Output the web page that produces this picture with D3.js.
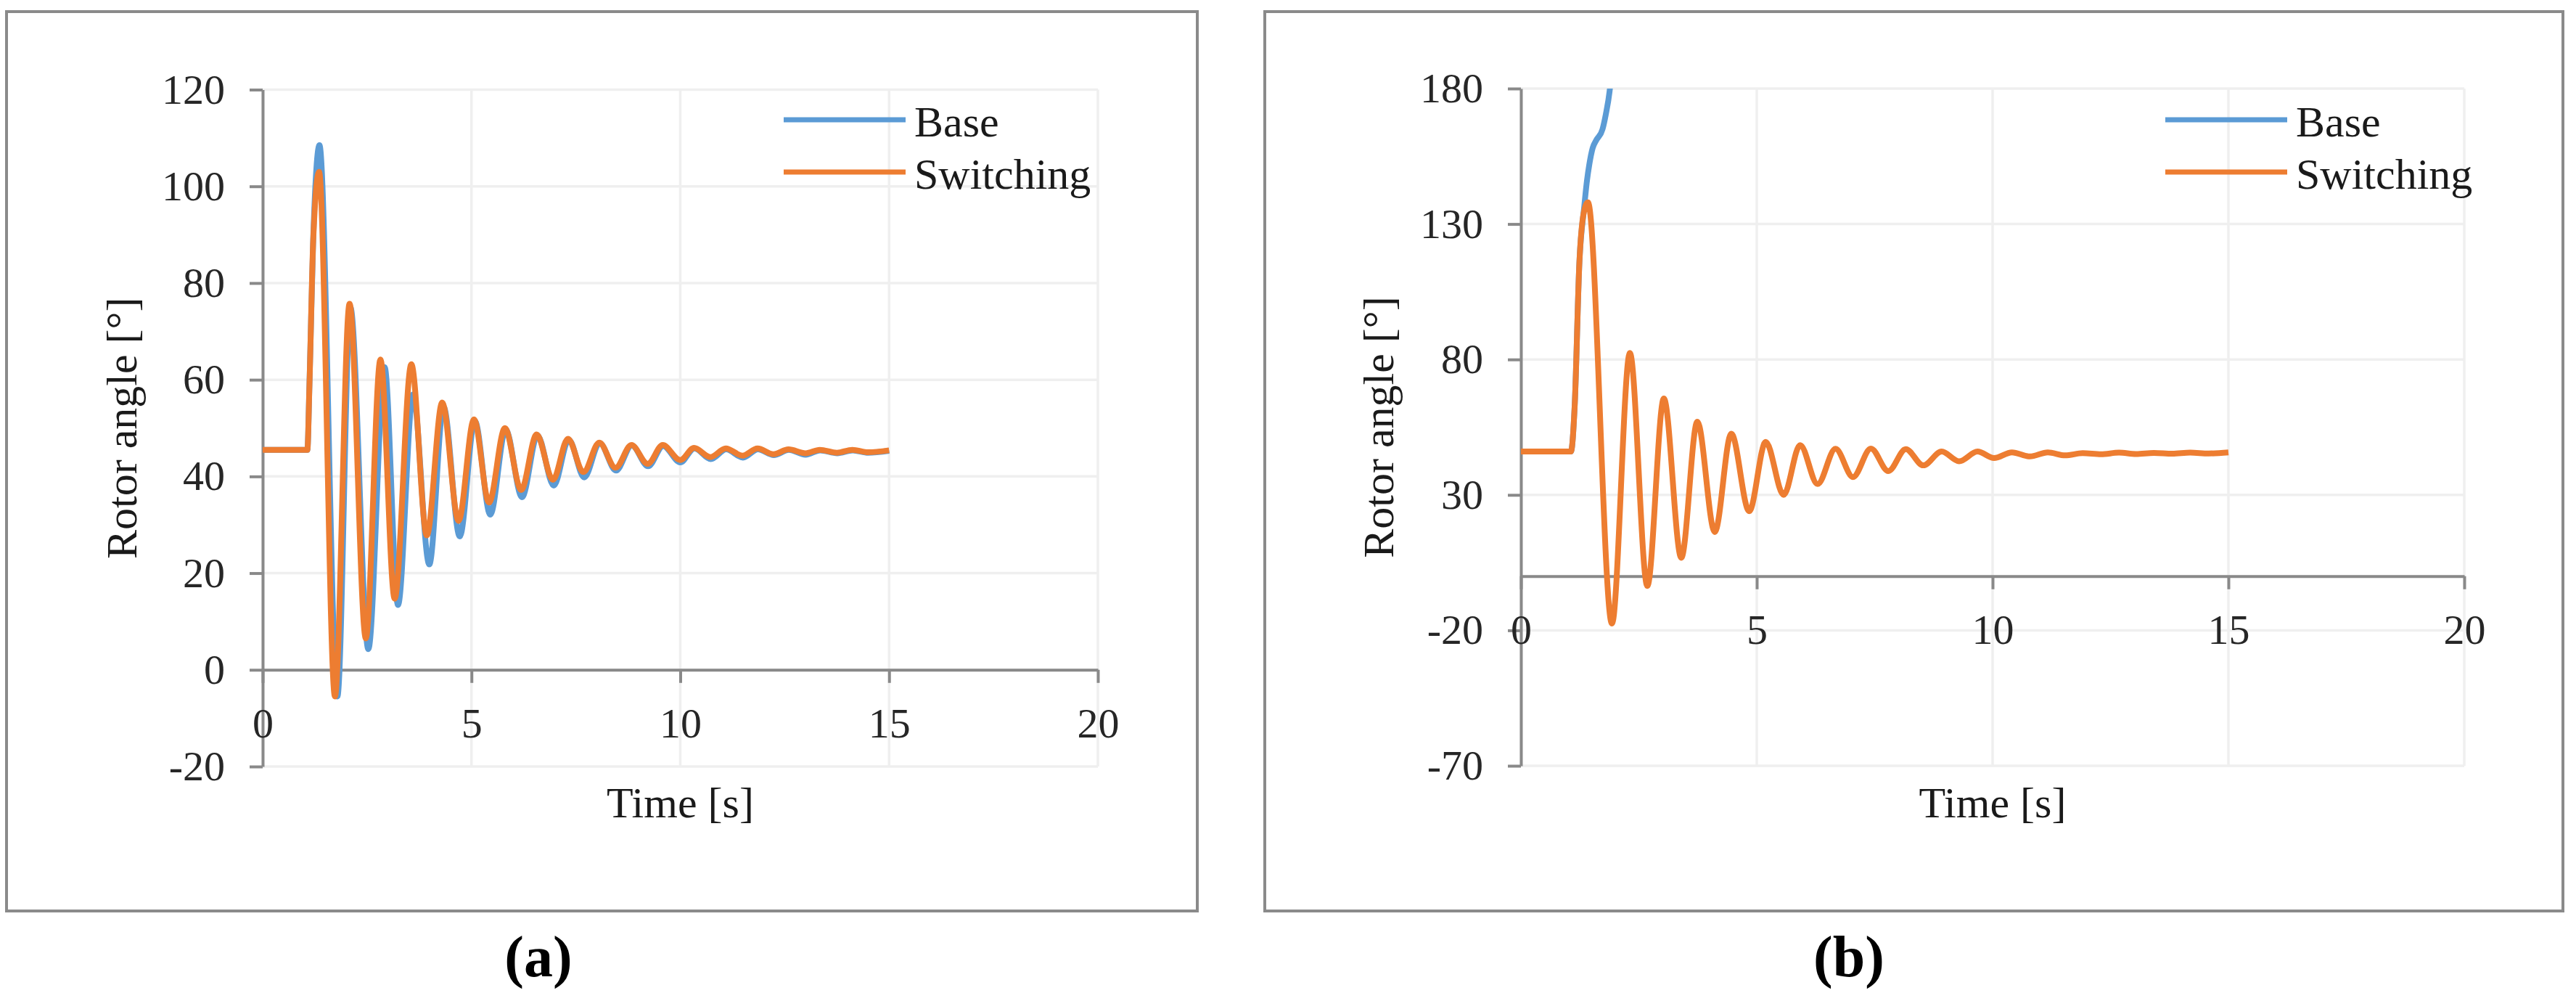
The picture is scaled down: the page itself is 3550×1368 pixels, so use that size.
<!DOCTYPE html>
<html>
<head>
<meta charset="utf-8">
<script src="https://cdn.jsdelivr.net/npm/d3@7/dist/d3.min.js"></script>
<style>
  body { margin: 0; background: #ffffff; }
  svg text { font-family: "Liberation Serif", "Times New Roman", serif; }
</style>
</head>
<body>
<svg id="chart" width="3550" height="1368"></svg>
<script>
// series names and colours
var seriesNames = ["Base", "Switching"];
var seriesColors = { Base: "#5b9bd5", Switching: "#ed7d31" };

// shared x ticks
var xTicks = [0, 5, 10, 15, 20];

// panel (a) ticks and values
var yTicksA = [-20, 0, 20, 40, 60, 80, 100, 120];
var baseTimeA = [0, 1.07, 1.12, 1.21, 1.36, 1.79, 2.1, 2.53, 2.92, 3.24, 3.6, 3.99, 4.33, 4.72, 5.08, 5.45,
  5.82, 6.21, 6.58, 6.97, 7.33, 7.7, 8.07, 8.46, 8.84, 9.23, 9.59, 10.0, 10.34, 10.73, 11.1, 11.5,
  11.86, 12.24, 12.6, 13.0, 13.35, 13.76, 14.13, 14.5, 15.0];
var baseAngleA = [45.5, 45.5, 59, 89, 108.5, -5.5, 75, 4.3, 62.6, 13.4, 57, 21.8, 54.4, 27.6, 51.5, 32.1,
  49.7, 35.7, 48.5, 38.1, 47.6, 39.8, 46.9, 41.2, 46.4, 42.1, 46.3, 42.9, 45.8, 43.6, 45.6, 43.9,
  45.6, 44.4, 45.5, 44.5, 45.4, 44.8, 45.4, 44.9, 45.3];
var switchTimeA = [0, 1.07, 1.12, 1.21, 1.35, 1.73, 2.08, 2.47, 2.82, 3.16, 3.56, 3.93, 4.3, 4.69, 5.06, 5.42,
  5.8, 6.19, 6.56, 6.95, 7.31, 7.68, 8.06, 8.45, 8.83, 9.22, 9.58, 10.0, 10.33, 10.72, 11.09, 11.49,
  11.85, 12.23, 12.59, 13.0, 13.34, 13.75, 14.12, 14.5, 15.0];
var switchAngleA = [45.5, 45.5, 58.9, 88.8, 103, -5.5, 75.7, 6.5, 64.2, 14.7, 63.2, 27.8, 55.3, 30.8, 51.8, 34.6,
  50.0, 37.2, 48.7, 39.3, 47.8, 40.9, 47.0, 41.8, 46.5, 42.6, 46.5, 43.4, 45.9, 44.0, 45.8, 44.3,
  45.8, 44.6, 45.6, 44.8, 45.5, 44.9, 45.5, 45.0, 45.4];

// panel (b) ticks and values
var yTicksB = [-70, -20, 30, 80, 130, 180];
var baseTimeB = [0, 1.06, 1.14, 1.24, 1.34, 1.40, 1.45, 1.52, 1.60, 1.73, 1.80, 1.88, 1.95];
var baseAngleB = [46, 46, 63, 116, 136, 146, 152, 158, 161, 165, 170.5, 179, 192];
var switchTimeB = [0, 1.06, 1.14, 1.24, 1.33, 1.42, 1.93, 2.31, 2.68, 3.03, 3.40, 3.74, 4.11, 4.46, 4.84, 5.19,
  5.57, 5.92, 6.29, 6.67, 7.04, 7.42, 7.79, 8.16, 8.53, 8.92, 9.29, 9.68, 10.03, 10.41, 10.79, 11.17,
  11.54, 11.91, 12.3, 12.68, 13.04, 13.42, 13.81, 14.19, 14.58, 15.0];
var switchAngleB = [46, 46, 63, 116, 134, 138, -17.5, 82.4, -3.6, 65.6, 6.8, 57.0, 16.3, 52.6, 24.0, 49.6,
  30.0, 48.4, 34.0, 47.0, 36.6, 47.1, 38.8, 46.9, 40.9, 46.0, 42.4, 46.0, 43.6, 45.7, 44.2, 45.7,
  44.6, 45.4, 45.0, 45.6, 45.1, 45.5, 45.2, 45.6, 45.3, 45.7];

var axisColor = "#898989";
var gridColor = "#efefef";
var textColor = "#262626";

var svg = d3.select("#chart");

function drawPanel(p) {
  var g = svg.append("g");

  //outer frame
  g.append("rect")
    .attr("x", p.box[0])
    .attr("y", p.box[1])
    .attr("width", p.box[2] - p.box[0])
    .attr("height", p.box[3] - p.box[1])
    .attr("fill", "none")
    .attr("stroke", "#8a8a8a")
    .attr("stroke-width", 4);

  var x = d3.scaleLinear().domain([0, 20]).range([p.left, p.right]);
  var y = d3.scaleLinear().domain([p.yTicks[0], p.yTicks[p.yTicks.length - 1]]).range([p.bottom, p.top]);

  //gridlines
  g.append("g")
    .selectAll("line")
    .data(p.yTicks)
    .enter()
    .append("line")
    .attr("x1", p.left)
    .attr("x2", p.right)
    .attr("y1", function(d) { return y(d); })
    .attr("y2", function(d) { return y(d); })
    .attr("stroke", gridColor)
    .attr("stroke-width", 3.5);
  g.append("g")
    .selectAll("line")
    .data(xTicks)
    .enter()
    .append("line")
    .attr("x1", function(d) { return x(d); })
    .attr("x2", function(d) { return x(d); })
    .attr("y1", p.top)
    .attr("y2", p.bottom)
    .attr("stroke", gridColor)
    .attr("stroke-width", 3.5);

  //axes
  var yAxis = d3.axisLeft(y)
    .tickValues(p.yTicks)
    .tickSize(18)
    .tickSizeOuter(0)
    .tickPadding(34)
    .tickFormat(function(d) { return String(d); });
  var xAxis = d3.axisBottom(x)
    .tickValues(xTicks)
    .tickSize(18)
    .tickSizeOuter(0)
    .tickPadding(34)
    .tickFormat(function(d) { return String(d); });

  var gy = g.append("g").attr("transform", "translate(" + p.left + ",0)").call(yAxis);
  var gx = g.append("g").attr("transform", "translate(0," + y(0) + ")").call(xAxis);
  [gx, gy].forEach(function(a) {
    a.select(".domain").attr("stroke", axisColor).attr("stroke-width", 4);
    a.selectAll(".tick line").attr("stroke", axisColor).attr("stroke-width", 4);
    a.selectAll(".tick text")
      .attr("font-size", 58)
      .attr("fill", textColor)
      .style("font-family", "'Liberation Serif', serif");
  });

  //clip for lines running off the plot
  svg.append("clipPath")
    .attr("id", "clip-" + p.id)
    .append("rect")
    .attr("x", p.left)
    .attr("y", p.top)
    .attr("width", p.right - p.left)
    .attr("height", p.bottom - p.top);

  var line = d3.line()
    .x(function(d) { return x(d[0]); })
    .y(function(d) { return y(d[1]); })
    .curve(d3.curveMonotoneX);

  g.append("g")
    .attr("clip-path", "url(#clip-" + p.id + ")")
    .selectAll("path")
    .data(p.series)
    .enter()
    .append("path")
    .attr("d", function(d) { return line(d3.zip(d.t, d.v)); })
    .attr("fill", "none")
    .attr("stroke", function(d) { return seriesColors[d.name]; })
    .attr("stroke-width", 8)
    .attr("stroke-linejoin", "round");

  //legend
  var legend = g.append("g")
    .selectAll("g")
    .data(seriesNames)
    .enter()
    .append("g")
    .attr("transform", function(d, i) {
      return "translate(0," + (p.legendY + i * 72) + ")";
    });
  legend
    .append("line")
    .attr("x1", p.legendX)
    .attr("x2", p.legendX + 168)
    .attr("stroke", function(d) { return seriesColors[d]; })
    .attr("stroke-width", 7);
  legend
    .append("text")
    .attr("x", p.legendX + 180)
    .attr("y", 23)
    .attr("font-size", 60)
    .attr("fill", "#1a1a1a")
    .text(function(d) { return d; });

  //axis titles
  g.append("text")
    .attr("x", (p.left + p.right) / 2)
    .attr("y", 1126)
    .attr("text-anchor", "middle")
    .attr("font-size", 60)
    .attr("fill", "#1a1a1a")
    .text("Time [s]");
  g.append("text")
    .attr("transform", "translate(" + p.yTitleX + "," + (p.top + p.bottom) / 2 + ") rotate(-90)")
    .attr("text-anchor", "middle")
    .attr("dy", "0.32em")
    .attr("font-size", 60)
    .attr("fill", "#1a1a1a")
    .text("Rotor angle [°]");

  //panel label
  g.append("text")
    .attr("x", p.labelX)
    .attr("y", 1345)
    .attr("text-anchor", "middle")
    .attr("font-size", 80)
    .attr("font-weight", "bold")
    .attr("fill", "#000000")
    .text(p.label);
}

drawPanel({
  id: "a",
  label: "(a)",
  labelX: 742,
  box: [9, 16, 1650, 1255],
  left: 362, right: 1513, top: 123.5, bottom: 1056,
  yTicks: yTicksA,
  yTitleX: 169,
  legendX: 1080, legendY: 165,
  series: [
    { name: "Base", t: baseTimeA, v: baseAngleA },
    { name: "Switching", t: switchTimeA, v: switchAngleA }
  ]
});

drawPanel({
  id: "b",
  label: "(b)",
  labelX: 2548,
  box: [1743, 16, 3532, 1255],
  left: 2096, right: 3396, top: 122, bottom: 1055,
  yTicks: yTicksB,
  yTitleX: 1901,
  legendX: 2984, legendY: 165,
  series: [
    { name: "Base", t: baseTimeB, v: baseAngleB },
    { name: "Switching", t: switchTimeB, v: switchAngleB }
  ]
});
</script>
</body>
</html>
